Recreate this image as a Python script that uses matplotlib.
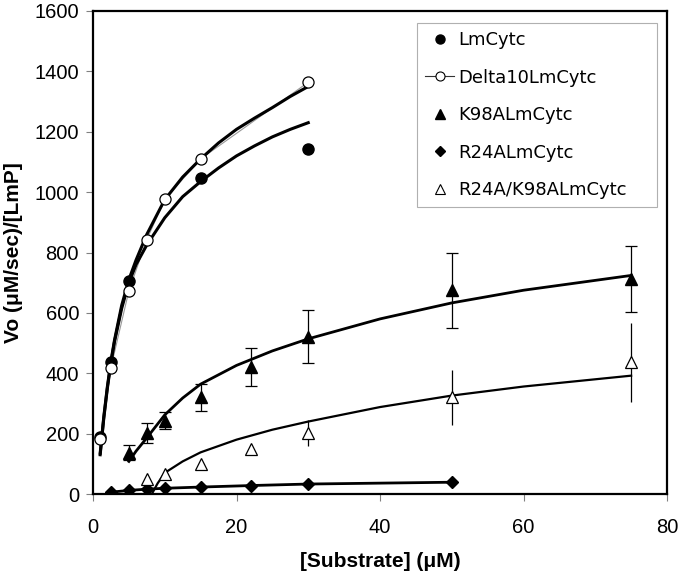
import matplotlib
matplotlib.use("Agg")
import matplotlib.pyplot as plt

# measured points
lm_x = [1, 2.5, 5, 15, 30]
lm_y = [190, 437, 706, 1046, 1142]

d10_x = [1, 2.5, 5, 7.5, 10, 15, 30]
d10_y = [181, 419, 673, 843, 976, 1110, 1364]

k98_x = [5, 7.5, 10, 15, 22, 30, 50, 75]
k98_y = [137, 201, 243, 320, 420, 521, 675, 712]
k98_err = [24, 33, 28, 46, 62, 88, 124, 108]

r24_x = [2.5, 5, 7.5, 10, 15, 22, 30, 50]
r24_y = [6, 12, 16, 19, 23, 28, 33, 39]

dbl_x = [7.5, 10, 15, 22, 30, 50, 75]
dbl_y = [49, 67, 98, 148, 201, 320, 436]
dbl_err = [0, 0, 0, 7, 43, 90, 132]

# fitted curves
fit_x = [1, 1.5, 2, 2.5, 3, 4, 5, 6, 7.5, 10, 12.5, 15, 17.5, 20, 22.5, 25, 27.5, 30]
lm_fit = [130, 250, 350, 435, 505, 615, 700, 760, 825, 915, 985, 1035, 1080, 1120,
          1153, 1183, 1208, 1230]
d10_fit = [135, 255, 355, 440, 510, 625, 710, 775, 860, 975, 1050, 1110, 1163, 1208,
           1245, 1280, 1317, 1350]

k98_fit_x = [5, 6, 7.5, 10, 12.5, 15, 20, 25, 30, 40, 50, 60, 75]
k98_fit = [108, 142, 186, 262, 318, 364, 426, 474, 514, 580, 633, 675, 724]

dbl_fit_x = [8.2, 9, 10, 12.5, 15, 20, 25, 30, 40, 50, 60, 75]
dbl_fit = [0, 35, 70, 108, 138, 180, 213, 240, 288, 326, 356, 392]

fig = plt.figure(figsize=(6.8, 5.72), dpi=100)
ax = fig.add_axes([93 / 680, 1 - 494 / 572, 574 / 680, 483 / 572])

# fit lines
ax.plot(d10_x, d10_y, color="#999999", lw=0.8, zorder=2)
ax.plot(fit_x, lm_fit, color="black", lw=2.2, zorder=3)
ax.plot(fit_x, d10_fit, color="black", lw=2.2, zorder=3)
ax.plot(k98_fit_x, k98_fit, color="black", lw=2.0, zorder=3)
ax.plot(dbl_fit_x, dbl_fit, color="black", lw=1.6, zorder=3)
ax.plot(r24_x, r24_y, color="black", lw=2.0, zorder=3)

# error bars
ax.errorbar(k98_x, k98_y, yerr=k98_err, fmt="none", ecolor="black",
            elinewidth=0.9, capsize=4, capthick=0.9, zorder=2)
ax.errorbar(dbl_x, dbl_y, yerr=dbl_err, fmt="none", ecolor="black",
            elinewidth=0.9, capsize=0, zorder=2)

# markers
ax.plot(lm_x, lm_y, "o", color="black", ms=8, zorder=5)
ax.plot(d10_x, d10_y, "o", mfc="white", mec="black", mew=0.9, ms=8, zorder=5)
ax.plot(k98_x, k98_y, "^", color="black", ms=8.5, zorder=5)
ax.plot(r24_x, r24_y, "D", color="black", ms=6.5, zorder=5)
ax.plot(dbl_x, dbl_y, "^", mfc="white", mec="black", mew=0.9, ms=8.5, zorder=5)

# legend handles
h1, = ax.plot([], [], "o", color="black", ms=6.5)
h2, = ax.plot([], [], "-o", color="#333333", lw=0.8, mfc="white", mec="black",
              mew=0.8, ms=6.5)
h3, = ax.plot([], [], "^", color="black", ms=7)
h4, = ax.plot([], [], "D", color="black", ms=5.5)
h5, = ax.plot([], [], "^", mfc="white", mec="black", mew=0.8, ms=7)
leg = ax.legend([h1, h2, h3, h4, h5],
                ["LmCytc", "Delta10LmCytc", "K98ALmCytc", "R24ALmCytc", "R24A/K98ALmCytc"],
                loc="upper left", bbox_to_anchor=(417 / 680, 1 - 215 / 572, 240 / 680, 192 / 572),
                bbox_transform=fig.transFigure, mode="expand", borderaxespad=0,
                fancybox=False, framealpha=1, edgecolor="#b0b0b0",
                prop={"family": "DejaVu Sans", "size": 13},
                handlelength=1.6, handletextpad=0.25, labelspacing=1.08, borderpad=0.45)
leg.get_frame().set_linewidth(0.8)

ax.set_xlim(0, 80)
ax.set_ylim(0, 1600)
ax.set_xticks([0, 20, 40, 60, 80])
ax.set_yticks(range(0, 1601, 200))
for s in ax.spines.values():
    s.set_linewidth(1.6)
ax.tick_params(direction="out", length=5, width=0.8, color="#808080")
ax.tick_params(axis="x", pad=12)
ax.tick_params(axis="y", pad=5)
for lab in ax.get_xticklabels() + ax.get_yticklabels():
    lab.set_family("Liberation Sans")
    lab.set_fontsize(14.5)

ax.set_xlabel("[Substrate] (\u03bcM)", family="Liberation Sans", fontsize=15,
              fontweight="bold", labelpad=11)
ax.set_ylabel("Vo (\u03bcM/sec)/[LmP]", family="Liberation Sans", fontsize=15,
              fontweight="bold", labelpad=8)

fig.savefig("out.png", dpi=100)
